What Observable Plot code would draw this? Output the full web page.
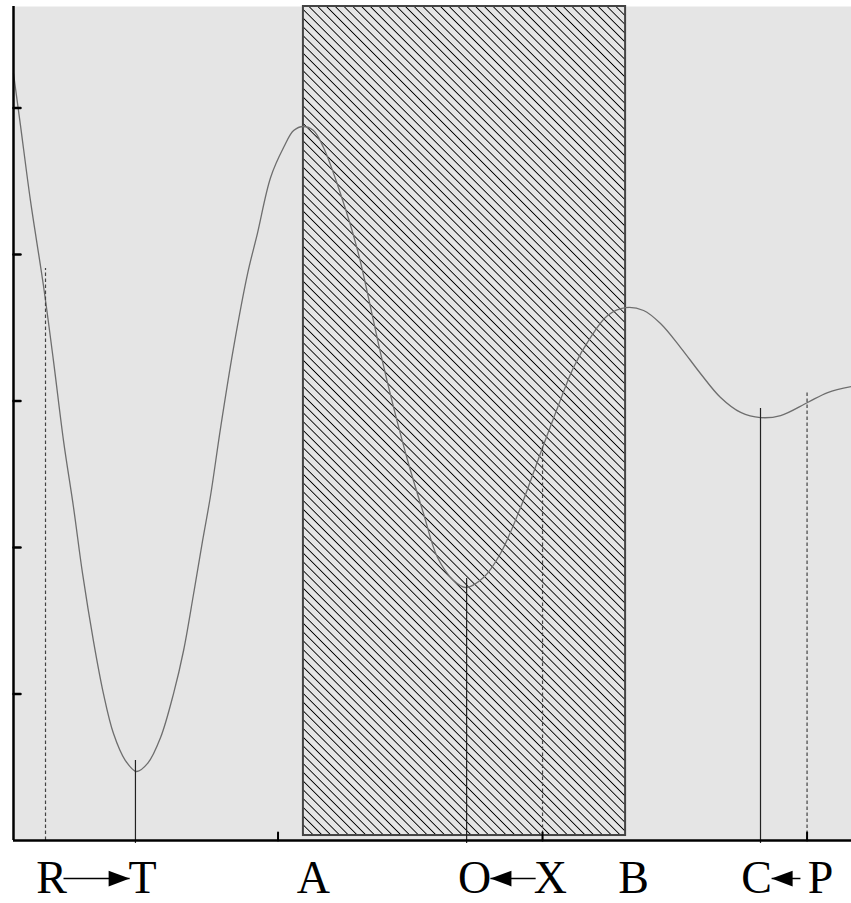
<!DOCTYPE html>
<html>
<head>
<meta charset="utf-8">
<script src="https://cdn.jsdelivr.net/npm/d3@7"></script>
<script src="https://cdn.jsdelivr.net/npm/@observablehq/plot@0.6"></script>
<style>
  html, body { margin: 0; padding: 0; background: #fff; }
  #chart svg { display: block; }
</style>
</head>
<body>
<div id="chart"></div>
<script>
// ---- data ----
const curveX = [0,0.026,0.064,0.113,0.151,0.189,0.227,0.261,0.302,0.340,0.378,0.423,0.465,0.507,0.556,0.605,0.643,0.681,0.715,0.745,0.783,0.832,0.885,0.922,0.972,1.021,1.059,1.096,1.134,1.172,1.236,1.301,1.350,1.388,1.437,1.490,1.550,1.603,1.664,1.709,1.777,1.841,1.917,1.992,2.057,2.117,2.181,2.246,2.314,2.382,2.446,2.522,2.597,2.673,2.749,2.824,2.900,3.002,3.078,3.168];
const curveY = [5.235,4.887,4.369,3.790,3.276,2.730,2.273,1.823,1.365,1.003,0.730,0.546,0.471,0.526,0.703,1.003,1.297,1.686,2.048,2.355,2.819,3.365,3.870,4.143,4.526,4.730,4.846,4.874,4.846,4.730,4.416,4.027,3.638,3.324,2.956,2.594,2.232,1.932,1.775,1.727,1.795,1.959,2.273,2.642,2.956,3.229,3.433,3.584,3.638,3.618,3.529,3.365,3.188,3.024,2.922,2.887,2.901,2.990,3.058,3.099];

const solidX   = [0.461, 1.713, 2.824];   // T, O, C
const solidTop = [0.546, 1.788, 2.949];
const dashedX   = [0.121, 2.0, 3.0];      // R, X, P
const dashedTop = [3.904, 2.730, 3.072];

const labelText = ["R", "T", "A", "O", "X", "B", "C", "P"];
const labelX    = [0.144, 0.488, 1.134, 1.743, 2.030, 2.344, 2.809, 3.051];

const arrowFrom = [0.189, 1.974, 2.975];
const arrowTo   = [0.439, 1.803, 2.866];

const bandX = [1.096, 2.314];
const bandY = [0.034, 5.693];

const xTicks = [1, 2, 3];
const yTicks = [1, 2, 3, 4, 5];
const xDomain = [0, 3.168];
const yDomain = [0, 5.693];

// ---- shapes ----
const tickShape = { draw(context, l) { context.moveTo(0, 0); context.lineTo(0, -l); } };
const headSymbol = {
  draw(context, size) {
    const s = Math.sqrt(size / Math.PI);
    context.moveTo(0, 0);
    context.lineTo(-2 * s, -0.75 * s);
    context.lineTo(-2 * s, 0.75 * s);
    context.closePath();
  }
};

const curve = curveX.map((x, i) => ({x, y: curveY[i]}));
const idx = n => d3.range(n);

const chart = Plot.plot({
  width: 851,
  height: 903,
  marginLeft: 13,
  marginRight: 0,
  marginTop: 6,
  marginBottom: 63,
  x: {domain: xDomain, axis: null},
  y: {domain: yDomain, axis: null},
  marks: [
    Plot.frame({fill: "#e5e5e5"}),
    Plot.rect([0], {x1: bandX[0], x2: bandX[1], y1: bandY[0], y2: bandY[1], fill: "url(#hatch)", stroke: "#444", strokeWidth: 2}),
    Plot.line(curve, {x: "x", y: "y", curve: "catmull-rom", stroke: "#6e6e6e", strokeWidth: 1.3}),
    Plot.ruleX(idx(solidX.length), {x: i => solidX[i], y1: -0.02, y2: i => solidTop[i], stroke: "#222", strokeWidth: 1.2}),
    Plot.ruleX(idx(dashedX.length), {x: i => dashedX[i], y1: 0, y2: i => dashedTop[i], stroke: "#444", strokeWidth: 1.2, strokeDasharray: "3.5,2.5"}),
    Plot.ruleX([0], {stroke: "black", strokeWidth: 2.5}),
    Plot.ruleY([0], {stroke: "black", strokeWidth: 2.5}),
    Plot.vector(yTicks, {x: 0, y: d => d, rotate: 90, length: 7, anchor: "start", shape: tickShape, stroke: "black", strokeWidth: 2.5}),
    Plot.vector(xTicks, {x: d => d, y: 0, rotate: 0, length: 8, anchor: "start", shape: tickShape, stroke: "black", strokeWidth: 2}),
    Plot.text(idx(labelText.length), {
      x: i => labelX[i], frameAnchor: "bottom", text: i => labelText[i],
      lineAnchor: "bottom", dy: 52, fontSize: 46, fontFamily: "Liberation Serif, Times New Roman, serif", fill: "black"
    }),
    Plot.link(idx(arrowFrom.length), {x1: i => arrowFrom[i], x2: i => arrowTo[i], y1: 0, y2: 0, dy: 38, stroke: "black", strokeWidth: 1.5}),
    Plot.dot(idx(arrowTo.length), {
      x: i => arrowTo[i], y: 0, dy: 38, r: 10.5, symbol: headSymbol,
      rotate: i => (arrowTo[i] > arrowFrom[i] ? 0 : 180), fill: "black", stroke: "none"
    })
  ]
});

const svg = d3.select(chart);
svg.style("background", "#fff");
const pat = svg.insert("defs", ":first-child")
  .append("pattern")
  .attr("id", "hatch")
  .attr("patternUnits", "userSpaceOnUse")
  .attr("width", 6.2).attr("height", 6.2)
  .attr("patternTransform", "rotate(-45)");
pat.append("line").attr("x1", 3).attr("y1", -1).attr("x2", 3).attr("y2", 7.2)
  .attr("stroke", "black").attr("stroke-width", 1)
  .attr("shape-rendering", "crispEdges");

document.getElementById("chart").appendChild(chart);
</script>
</body>
</html>
